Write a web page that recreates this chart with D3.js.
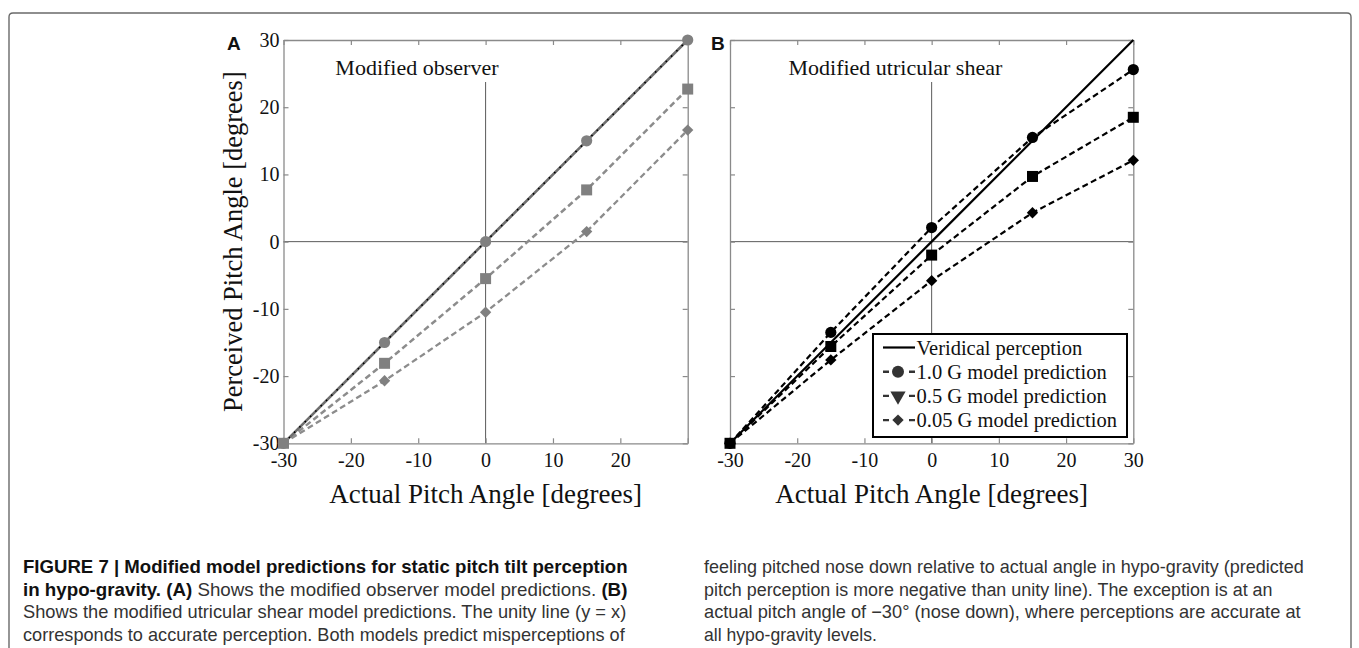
<!DOCTYPE html>
<html>
<head>
<meta charset="utf-8">
<script src="https://cdn.jsdelivr.net/npm/d3@7"></script>
<style>
  html, body { margin: 0; padding: 0; background: #fff; }
  svg { display: block; }
  .serif { font-family: "Liberation Serif", "Times New Roman", serif; }
  .sans { font-family: "Liberation Sans", Arial, Helvetica, sans-serif; }
</style>
</head>
<body>
<svg id="fig" width="1359" height="648"></svg>
<script>
// ---------------- DATA ----------------
const pitchAngles = [-30, -15, 0, 15, 30];
const veridical = [-30, -15, 0, 15, 30];

// Panel A: modified observer
const obsG10 = [-30, -15, 0, 15, 30];
const obsG05 = [-30, -18.1, -5.5, 7.7, 22.7];
const obsG005 = [-30, -20.7, -10.5, 1.5, 16.6];

// Panel B: modified utricular shear
const shearG10 = [-30, -13.5, 2.1, 15.5, 25.6];
const shearG05 = [-30, -15.6, -2.0, 9.7, 18.5];
const shearG005 = [-30, -17.6, -5.8, 4.3, 12.1];

const tickValues = [-30, -20, -10, 0, 10, 20, 30];
const xLabelsA = [-30, -20, -10, 0, 10, 20];
const xLabelsB = [-30, -20, -10, 0, 10, 20, 30];
const yLabelsA = [-30, -20, -10, 0, 10, 20, 30];

const legendLabels = ["Veridical perception", "1.0 G model prediction", "0.5 G model prediction", "0.05 G model prediction"];

const captionLeft = [
  [["b", "FIGURE 7 | Modified model predictions for static pitch tilt perception"]],
  [["b", "in hypo-gravity. (A)"], ["n", " Shows the modified observer model predictions. "], ["b", "(B)"]],
  [["n", "Shows the modified utricular shear model predictions. The unity line (y = x)"]],
  [["n", "corresponds to accurate perception. Both models predict misperceptions of"]]
];
const captionRight = [
  [["n", "feeling pitched nose down relative to actual angle in hypo-gravity (predicted"]],
  [["n", "pitch perception is more negative than unity line). The exception is at an"]],
  [["n", "actual pitch angle of \u221230\u00b0 (nose down), where perceptions are accurate at"]],
  [["n", "all hypo-gravity levels."]]
];

// ---------------- DRAW ----------------
const svg = d3.select("#fig");

// outer frame
svg.append("path")
  .attr("d", "M9,660 L9,17 Q9,13 13,13 L1347,13 Q1351,13 1351,17 L1351,660")
  .attr("fill", "none").attr("stroke", "#6a6a6a").attr("stroke-width", 1.4);

const yScale = d3.scaleLinear().domain([-30, 30]).range([443.3, 40]);

function panel(opts) {
  const x = d3.scaleLinear().domain([-30, 30]).range(opts.xr);
  const y = yScale;
  const g = svg.append("g");
  const axisColor = "#8a8a8a";

  // zero lines
  g.append("line").attr("x1", x(-30)).attr("x2", x(30)).attr("y1", y(0)).attr("y2", y(0))
    .attr("stroke", "#5a5a5a").attr("stroke-width", 1);
  g.append("line").attr("x1", x(0)).attr("x2", x(0)).attr("y1", y(-30)).attr("y2", y(30))
    .attr("stroke", "#5a5a5a").attr("stroke-width", 1);

  // panel title with white backing
  const tt = g.append("text").attr("class", "serif")
    .attr("x", x(opts.titleX)).attr("y", 75)
    .attr("font-size", 22).attr("fill", "#111").text(opts.title);
  const bb = tt.node().getBBox();
  g.insert("rect", "text")
    .attr("x", bb.x - 6).attr("y", y(30) + 1)
    .attr("width", bb.width + 12).attr("height", 82 - y(30) - 1)
    .attr("fill", "#fff");

  // axes
  const styleAxis = sel => {
    sel.selectAll(".domain").attr("stroke", axisColor).attr("stroke-width", 1.3);
    sel.selectAll(".tick line").attr("stroke", axisColor).attr("stroke-width", 1.2);
    sel.selectAll("text").attr("class", "serif").attr("font-family", null)
      .attr("font-size", 20).attr("fill", "#111");
  };
  const fmt = labels => d => labels.includes(d) ? String(d) : "";
  const bottom = d3.axisBottom(x).tickValues(tickValues).tickSizeInner(-5).tickSizeOuter(0)
    .tickPadding(10).tickFormat(fmt(opts.xLabels));
  g.append("g").attr("transform", `translate(0,${y(-30)})`).call(bottom).call(styleAxis);
  const top = d3.axisTop(x).tickValues(tickValues).tickSizeInner(-5).tickSizeOuter(0).tickFormat("");
  g.append("g").attr("transform", `translate(0,${y(30)})`).call(top).call(styleAxis);
  const left = d3.axisLeft(y).tickValues(tickValues).tickSizeInner(-5).tickSizeOuter(0)
    .tickPadding(4).tickFormat(fmt(opts.yLabels));
  g.append("g").attr("transform", `translate(${x(-30)},0)`).call(left).call(styleAxis);
  const right = d3.axisRight(y).tickValues(tickValues).tickSizeInner(-5).tickSizeOuter(0).tickFormat("");
  g.append("g").attr("transform", `translate(${x(30)},0)`).call(right).call(styleAxis);

  // x title
  g.append("text").attr("class", "serif").attr("x", x(0)).attr("y", 503)
    .attr("text-anchor", "middle").attr("font-size", 27).attr("fill", "#111")
    .text("Actual Pitch Angle [degrees]");

  // panel letter
  g.append("text").attr("class", "sans").attr("x", opts.letterX).attr("y", 50)
    .attr("font-size", 19).attr("font-weight", "bold").attr("fill", "#111").text(opts.letter);

  const line = d3.line().x((d, i) => x(pitchAngles[i])).y(d => y(d));
  const sym = {
    circle: d3.symbol().type(d3.symbolCircle).size(Math.PI * 5.6 * 5.6),
    square: d3.symbol().type(d3.symbolSquare).size(11 * 11),
    diamond: d3.symbol().type(d3.symbolDiamond2).size(82)
  };

  // lines first
  opts.series.forEach(s => {
    g.append("path").datum(s.values).attr("d", line)
      .attr("fill", "none").attr("stroke", s.color).attr("stroke-width", s.width)
      .attr("stroke-dasharray", s.dash || null);
    if (s.overlayDots) {
      g.append("path").datum(s.values).attr("d", line)
        .attr("fill", "none").attr("stroke", "#000").attr("stroke-width", 1.6)
        .attr("stroke-dasharray", "1.5,6");
    }
  });
  // markers on top
  opts.series.forEach(s => {
    if (s.marker) {
      g.selectAll(null).data(s.values).enter().append("path")
        .attr("d", sym[s.marker]())
        .attr("transform", (d, i) => `translate(${x(pitchAngles[i])},${y(d)})`)
        .attr("fill", s.markerColor);
    }
  });
  return { x, y, g };
}

// y axis title (shared left)
svg.append("text").attr("class", "serif")
  .attr("transform", `translate(242,${yScale(0)}) rotate(-90)`)
  .attr("text-anchor", "middle").attr("font-size", 26.5).attr("fill", "#111")
  .text("Perceived Pitch Angle [degrees]");

const grayL = "#8c8c8c", grayM = "#808080";
panel({
  xr: [283.5, 687.7], title: "Modified observer", titleX: -22.3,
  xLabels: xLabelsA, yLabels: yLabelsA, letter: "A", letterX: 227,
  series: [
    { values: obsG005, color: grayL, width: 2.3, dash: "6,3.5", marker: "diamond", markerColor: grayM },
    { values: obsG05, color: grayL, width: 2.5, dash: "6,3.5", marker: "square", markerColor: grayM },
    { values: veridical, color: "#6e6e6e", width: 2.6, overlayDots: true },
    { values: obsG10, color: "none", width: 0, marker: "circle", markerColor: grayM }
  ]
});

panel({
  xr: [730, 1133.3], title: "Modified utricular shear", titleX: -21.3,
  xLabels: xLabelsB, yLabels: [], letter: "B", letterX: 711,
  series: [
    { values: veridical, color: "#000", width: 2.2 },
    { values: shearG10, color: "#000", width: 2.2, dash: "6,3.5", marker: "circle", markerColor: "#000" },
    { values: shearG05, color: "#000", width: 2.2, dash: "6,3.5", marker: "square", markerColor: "#000" },
    { values: shearG005, color: "#000", width: 2.2, dash: "6,3.5", marker: "diamond", markerColor: "#000" }
  ]
});

// legend
const lg = svg.append("g");
lg.append("rect").attr("x", 873).attr("y", 334).attr("width", 254).attr("height", 103)
  .attr("fill", "#fff").attr("stroke", "#000").attr("stroke-width", 2);
const legMarkers = [null, d3.symbolCircle, d3.symbolTriangle, d3.symbolDiamond2];
const legSizes = [0, Math.PI * 6 * 6, 100, 82];
legendLabels.forEach((lab, i) => {
  const cy = 347.5 + i * 24.2;
  if (i === 0) {
    lg.append("line").attr("x1", 883).attr("x2", 915).attr("y1", cy).attr("y2", cy)
      .attr("stroke", "#000").attr("stroke-width", 2.2);
  } else {
    lg.append("line").attr("x1", 883).attr("x2", 915).attr("y1", cy).attr("y2", cy)
      .attr("stroke", "#333").attr("stroke-width", 2.4).attr("stroke-dasharray", "6,20");
    lg.append("path").attr("d", d3.symbol().type(legMarkers[i]).size(legSizes[i])())
      .attr("transform", `translate(898,${cy})` + (i === 2 ? " rotate(180)" : ""))
      .attr("fill", "#333");
  }
  lg.append("text").attr("class", "serif").attr("x", 916.5).attr("y", cy + 7)
    .attr("font-size", 20.5).attr("fill", "#111").text(lab);
});

// caption
function caption(lines, x0, ends) {
  lines.forEach((parts, i) => {
    const yb = 573 + i * 22.6;
    const g = svg.append("g");
    const t = g.append("text").attr("class", "sans").attr("x", 0).attr("y", 0)
      .attr("font-size", 18).attr("fill", "#222");
    parts.forEach(p => {
      t.append("tspan").attr("font-weight", p[0] === "b" ? "bold" : null)
        .attr("fill", p[0] === "b" ? "#111" : "#333").text(p[1]);
    });
    const w = t.node().getBBox().width;
    const sx = (ends[i] - x0) / w;
    g.attr("transform", `translate(${x0},${yb}) scale(${sx},1)`);
  });
}
caption(captionLeft, 23, [628, 628, 627, 626]);
caption(captionRight, 704, [1304, 1273, 1301, 877]);
</script>
</body>
</html>
